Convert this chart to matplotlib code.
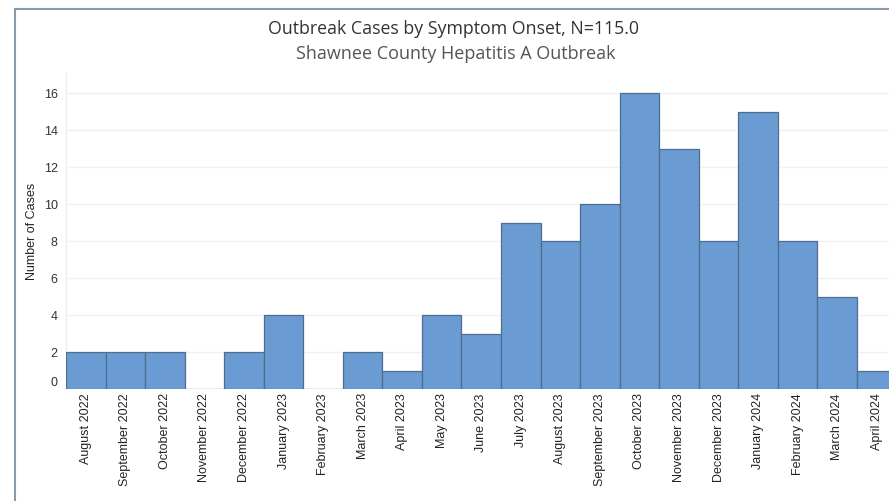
import matplotlib.pyplot as plt
from matplotlib.lines import Line2D

months = ["August 2022", "September 2022", "October 2022", "November 2022",
          "December 2022", "January 2023", "February 2023", "March 2023",
          "April 2023", "May 2023", "June 2023", "July 2023", "August 2023",
          "September 2023", "October 2023", "November 2023", "December 2023",
          "January 2024", "February 2024", "March 2024", "April 2024"]
cases = [2, 2, 2, 0, 2, 4, 0, 2, 1, 4, 3, 9, 8, 10, 16, 13, 8, 15, 8, 5, 1]
y_ticks = [0, 2, 4, 6, 8, 10, 12, 14, 16]

title = "Outbreak Cases by Symptom Onset, N=115.0"
subtitle = "Shawnee County Hepatitis A Outbreak"

plt.rcParams['font.family'] = ['Liberation Sans', 'DejaVu Sans']

fig = plt.figure(figsize=(8.89, 5.01), dpi=100)
ax = fig.add_axes([66 / 889, 112 / 501, 830.5 / 889, 315.7 / 501])

x = list(range(len(months)))
ax.bar(x, cases, width=1.0, color='#6a9bd3', edgecolor='#4f6e8f', linewidth=0.9, zorder=3)

ax.set_xlim(-0.5, len(months) - 0.5)
ax.set_ylim(0, 17.08)
ax.set_yticks(y_ticks)
ax.set_yticklabels([str(v) for v in y_ticks], fontsize=9, color='#333333')
ax.set_xticks(x)
ax.set_xticklabels(months, rotation=90, fontsize=9, color='#222222', va='top', ha='center')
ax.tick_params(axis='both', length=0)
ax.tick_params(axis='x', pad=3)
ax.tick_params(axis='y', pad=6)
ax.yaxis.grid(True, color='#f1f1f1', linewidth=1, zorder=0)

for s in ['top', 'right', 'bottom']:
    ax.spines[s].set_visible(False)
ax.spines['left'].set_color('#eeeeee')

ax.set_ylabel("Number of Cases", fontsize=9, color='#222222')
ax.yaxis.set_label_coords(-0.034, 0.5)

# nudge zero label up like the original
ax.get_yticklabels()[0].set_va('bottom')

fig.text(454 / 889, 1 - 29 / 501, title, ha='center', va='center',
         fontsize=12.8, color='#333333', family=['Open Sans', 'DejaVu Sans'])
fig.text(456 / 889, 1 - 54 / 501, subtitle, ha='center', va='center',
         fontsize=13, color='#555555', family=['Open Sans', 'DejaVu Sans'])

# outer frame
fig.add_artist(Line2D([15 / 889, 15 / 889], [0, 1 - 9 / 501], transform=fig.transFigure,
                      color='#8a9bb0', linewidth=1.5))
fig.add_artist(Line2D([15 / 889, 1], [1 - 9 / 501, 1 - 9 / 501], transform=fig.transFigure,
                      color='#8a9bb0', linewidth=1.5))

fig.savefig('out.png', dpi=100)
